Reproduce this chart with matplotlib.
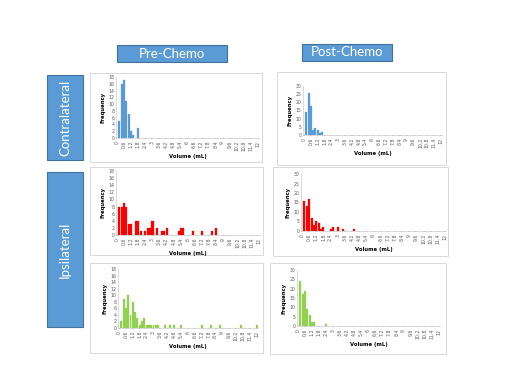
import matplotlib
matplotlib.use("Agg")
import matplotlib.pyplot as plt
from matplotlib.patches import Rectangle

W, H = 506, 370

# tick labels of the category axis (bins of 0.2 mL, every 3rd labelled)
tick_vals = [0, 0.6, 1.2, 1.8, 2.4, 3, 3.6, 4.2, 4.8, 5.4, 6, 6.6, 7.2, 7.8,
             8.4, 9, 9.6, 10.2, 10.8, 11.4, 12]
tick_labels = ["0", "0.6", "1.2", "1.8", "2.4", "3", "3.6", "4.2", "4.8", "5.4",
               "6", "6.6", "7.2", "7.8", "8.4", "9", "9.6", "10.2", "10.8",
               "11.4", "12"]

# contralateral, pre chemo (blue)
pre_contra_vol = [0.2, 0.4, 0.6, 0.8, 1.0, 1.2, 1.4, 1.8]
pre_contra_n = [5, 16, 17, 11, 7, 2, 1, 3]

# contralateral, post chemo (blue)
post_contra_vol = [0.2, 0.4, 0.6, 0.8, 1.0, 1.2, 1.4, 1.6]
post_contra_n = [14, 26, 18, 3, 4, 3, 1, 2]

# ipsilateral, pre chemo (red)
pre_ipsi_red_vol = [0.2, 0.4, 0.6, 0.8, 1.0, 1.2, 1.6, 1.8, 2.0, 2.4, 2.6, 2.8,
                    3.0, 3.4, 3.8, 4.0, 4.2, 5.2, 5.4, 5.6, 6.4, 7.2, 8.0, 8.4]
pre_ipsi_red_n = [8, 8, 9, 8, 3, 3, 4, 4, 1, 1, 2, 2,
                  4, 2, 1, 1, 2, 1, 2, 2, 1, 1, 1, 2]

# ipsilateral, post chemo (red)
post_ipsi_red_vol = [0.2, 0.4, 0.6, 0.8, 1.0, 1.2, 1.4, 1.6, 1.8,
                     2.4, 2.6, 3.0, 3.4, 4.4]
post_ipsi_red_n = [16, 13, 17, 7, 3, 5, 4, 1, 2, 1, 2, 2, 1, 1]

# ipsilateral, pre chemo (green)
pre_ipsi_grn_vol = [0.2, 0.4, 0.6, 0.8, 1.0, 1.2, 1.4, 1.6, 1.8, 2.0, 2.2, 2.4,
                    2.6, 2.8, 3.0, 3.2, 3.4, 4.0, 4.4, 4.8, 5.4, 7.2, 8.0, 8.8,
                    10.6, 12.0]
pre_ipsi_grn_n = [2, 9, 6, 10, 4, 8, 5, 3, 1, 2, 3, 1,
                  1, 1, 1, 1, 1, 1, 1, 1, 1, 1, 1, 1,
                  1, 1]

# ipsilateral, post chemo (green)
post_ipsi_grn_vol = [0.2, 0.4, 0.6, 0.8, 1.0, 1.2, 1.4, 2.4]
post_ipsi_grn_n = [24, 17, 19, 9, 6, 2, 2, 1]

BLUE = "#5B9BD5"
RED = "#FF0000"
GREEN = "#92D050"
BOX_EDGE = "#41719C"


def fig_rect(x0, y0, x1, y1):
    # pixel box (top-left origin) -> figure fraction
    return [x0 / W, 1 - y1 / H, (x1 - x0) / W, (y1 - y0) / H]


fig = plt.figure(figsize=(W / 100, H / 100), dpi=100)
fig.patch.set_facecolor("white")


def add_box(x0, y0, x1, y1, face="white", edge="#D9D9D9", lw=0.7, z=-5):
    r = fig_rect(x0, y0, x1, y1)
    fig.patches.append(Rectangle((r[0], r[1]), r[2], r[3], transform=fig.transFigure,
                                 facecolor=face, edgecolor=edge, linewidth=lw,
                                 zorder=z))


def histo(frame, x0lab, x12lab, ytop, ybot, vols, counts, color, ymax, ystep):
    add_box(*frame)
    slot = (x12lab - x0lab) / 60.0
    ax = fig.add_axes(fig_rect(x0lab - slot / 2, ytop, x12lab + slot / 2, ybot))
    ax.patch.set_alpha(0)
    ax.bar(vols, counts, width=0.17, color=color, edgecolor=color, linewidth=0.2)
    ax.set_xlim(-0.1, 12.1)
    ax.set_ylim(0, ymax)
    ax.set_yticks(range(0, ymax + 1, ystep))
    ax.set_xticks(tick_vals)
    ax.set_xticklabels(tick_labels, rotation=90)
    ax.tick_params(axis="both", labelsize=3.3, length=1, width=0.3, pad=1,
                   colors="#595959")
    ax.tick_params(axis="y", length=0)
    for s in ["top", "right"]:
        ax.spines[s].set_visible(False)
    for s in ["left", "bottom"]:
        ax.spines[s].set_color("#BFBFBF")
        ax.spines[s].set_linewidth(0.4)
    ax.set_xlabel("Volume (mL)", fontsize=3.8, fontweight="bold", labelpad=2)
    ax.set_ylabel("Frequency", fontsize=3.8, fontweight="bold", labelpad=2)
    return ax


# top row: contralateral
histo((90, 73, 262, 162), 117, 258, 77, 138, pre_contra_vol, pre_contra_n, BLUE, 18, 2)
histo((277, 72, 446, 165), 304, 441, 86, 135, post_contra_vol, post_contra_n, BLUE, 30, 5)
# middle row: ipsilateral (red)
histo((90, 167, 263, 255), 117, 259, 171, 235, pre_ipsi_red_vol, pre_ipsi_red_n, RED, 18, 2)
histo((273, 167, 448, 256), 302, 445, 174, 231, post_ipsi_red_vol, post_ipsi_red_n, RED, 30, 5)
# bottom row: ipsilateral (green)
histo((90, 263, 263, 353), 119, 257, 269, 328, pre_ipsi_grn_vol, pre_ipsi_grn_n, GREEN, 18, 2)
histo((270, 263, 446, 354), 298, 439, 270, 326, post_ipsi_grn_vol, post_ipsi_grn_n, GREEN, 30, 5)

# column headers
add_box(117, 45, 227, 62, face=BLUE, edge=BOX_EDGE, lw=0.8, z=2)
fig.text(172 / W, 1 - 53.5 / H, "Pre-Chemo", color="white", fontsize=9.5,
         family="Lato", ha="center", va="center")
add_box(302, 44, 392, 61, face=BLUE, edge=BOX_EDGE, lw=0.8, z=2)
fig.text(347 / W, 1 - 52.5 / H, "Post-Chemo", color="white", fontsize=9.5,
         family="Lato", ha="center", va="center")

# row headers
add_box(47, 75, 83, 160, face=BLUE, edge=BOX_EDGE, lw=0.8, z=2)
fig.text(65 / W, 1 - 117.5 / H, "Contralateral", color="white", fontsize=9.5,
         family="Lato", ha="center", va="center", rotation=90)
add_box(47, 172, 83, 327, face=BLUE, edge=BOX_EDGE, lw=0.8, z=2)
fig.text(65 / W, 1 - 249.5 / H, "Ipsilateral", color="white", fontsize=9.5,
         family="Lato", ha="center", va="center", rotation=90)

fig.savefig("out.png", dpi=100)
